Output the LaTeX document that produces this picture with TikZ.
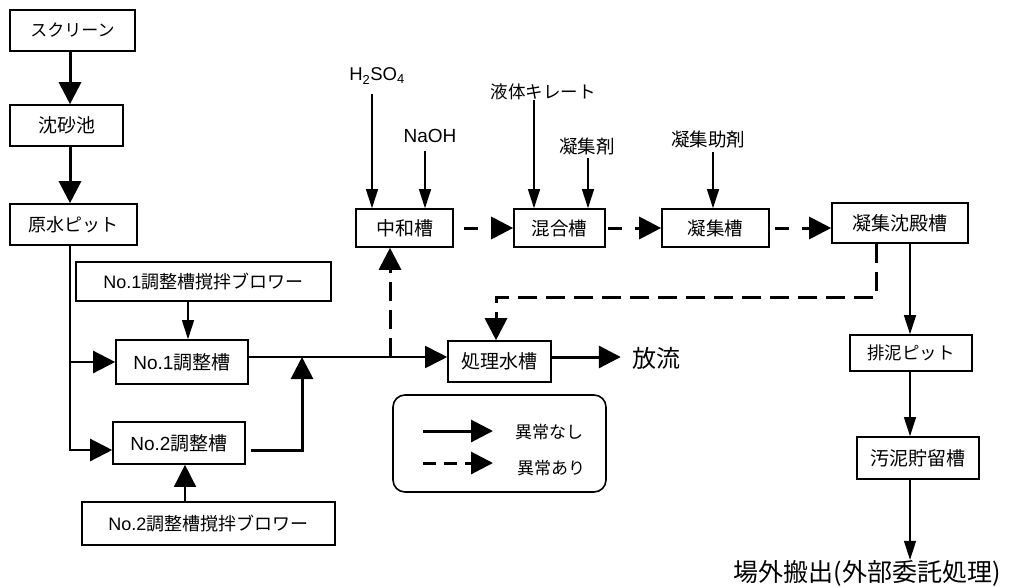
\documentclass[tikz,border=0pt]{standalone}
\usepackage{fontspec}
\setmainfont{Liberation Sans}
\newfontfamily\jp{Noto Sans CJK JP}
\usetikzlibrary{arrows.meta}
\newcommand\myfs[1]{\fontsize{#1}{#1}\selectfont}
\begin{document}
\begin{tikzpicture}[x=1pt,y=-1pt,
  box/.style={draw,line width=1.6pt,inner sep=0pt,font=\jp\myfs{19}},
  lbl/.style={inner sep=0pt,font=\jp\myfs{#1}},
  thickln/.style={line width=3pt},
  midln/.style={line width=1.8pt},
  thinln/.style={line width=1.2pt},
  dsh/.style={dash pattern=on 19pt off 9pt},
  bigarr/.style={-{Triangle[width=22pt,length=22pt]}},
  smallarr/.style={-{Triangle[width=12pt,length=19pt]}}]
\useasboundingbox (0,0) rectangle (1011,586);

% left column
\node[box,minimum width=125pt,minimum height=41pt] (scr) at (72.5,30.5) {\myfs{17}スクリーン};
\node[box,minimum width=113pt,minimum height=41pt] (sand) at (66.5,125.5) {沈砂池};
\node[box,minimum width=127pt,minimum height=41pt] (pit) at (73.5,224.5) {\myfs{18}原水ピット};
\node[box,minimum width=255pt,minimum height=39pt] (b1) at (203.5,281.5) {\myfs{18}{\rmfamily No.1}調整槽撹拌ブロワー};
\node[box,minimum width=132pt,minimum height=44pt] (t1) at (182,362) {{\rmfamily No.1}調整槽};
\node[box,minimum width=132pt,minimum height=42pt] (t2) at (179,443) {{\rmfamily No.2}調整槽};
\node[box,minimum width=253pt,minimum height=43pt] (b2) at (208.5,523.5) {\myfs{18}{\rmfamily No.2}調整槽撹拌ブロワー};

% process line
\node[box,minimum width=97pt,minimum height=38pt] (neut) at (404.5,228) {中和槽};
\node[box,minimum width=91pt,minimum height=38pt] (mix) at (559.5,228) {\myfs{18.5}混合槽};
\node[box,minimum width=107pt,minimum height=38pt] (coag) at (715.5,228) {\myfs{18.5}凝集槽};
\node[box,minimum width=136pt,minimum height=40pt] (sed) at (900,223) {凝集沈殿槽};
\node[box,minimum width=103pt,minimum height=41pt] (tr) at (499.5,361.5) {処理水槽};
\node[box,minimum width=122pt,minimum height=36pt] (pit2) at (911,353) {\myfs{17.5}排泥ピット};
\node[box,minimum width=122pt,minimum height=42pt] (sto) at (918,458) {汚泥貯留槽};

% chemicals
\node[inner sep=0pt,font=\myfs{18.5}] (h2so4) at (377,76) {H\textsubscript{2}SO\textsubscript{4}};
\node[inner sep=0pt,font=\myfs{19}] (naoh) at (430,136) {NaOH};
\node[lbl=17.5] (chel) at (543,92) {液体キレート};
\node[lbl=18.5] (coagent) at (587,147) {凝集剤};
\node[lbl=18.5] (aid) at (708,140) {凝集助剤};

% outputs
\node[lbl=24,anchor=west] (dis) at (632,358) {放流};
\node[lbl=25] (out) at (867,573) {場外搬出(外部委託処理)};

% legend
\node[draw,line width=1.6pt,rounded corners=12pt,minimum width=213pt,minimum height=97pt,inner sep=0pt] (leg) at (499.5,443.5) {};
\coordinate (l1a) at (423,431);
\coordinate (l1b) at (493,431);
\coordinate (l2a) at (423,463);
\coordinate (l2b) at (493,463);
\node[lbl=17] (n1) at (549,432) {異常なし};
\node[lbl=17] (n2) at (551,468) {異常あり};
\draw[thickln,bigarr] (l1a) -- (l1b);
\draw[thickln,dsh,dash pattern=on 13pt off 8pt,bigarr] (l2a) -- (l2b);

% helper coordinates
\coordinate (tx) at (70,0);
\coordinate (y2) at (0,450);
\coordinate (jn) at (302,357);
\coordinate (dx) at (390,0);
\coordinate (rx) at (876,0);
\coordinate (ry) at (0,297);
\coordinate (rx2) at (496,0);
\coordinate (sx) at (910,0);

% left column flow
\draw[thickln,bigarr] (scr.south -| tx) -- (sand.north -| tx);
\draw[thickln,bigarr] (sand.south -| tx) -- (pit.north -| tx);
\draw[line width=2.4pt,bigarr] (pit.south -| tx) -- (tx |- y2) -- (t2.west |- y2);
\draw[line width=2.4pt,bigarr] (tx |- t1.west) -- (t1.west);
\draw[thinln,smallarr] (b1.south -| 188,0) -- (t1.north -| 188,0);
\draw[line width=1.5pt,bigarr] (b2.north -| 185,0) -- (t2.south -| 185,0);
\draw[thickln,bigarr,shorten <=5pt] (t2.east |- y2) -- (jn |- y2) -- (jn);
\draw[midln,bigarr] (t1.east |- jn) -- (tr.west |- jn);
\draw[thickln,bigarr] (tr.east |- jn) -- ++(69,0);

% abnormal routes
\draw[thickln,dsh,bigarr] (dx |- jn) -- (dx |- neut.south);
\draw[thickln,dsh,dash pattern=on 14pt off 13pt,bigarr,shorten <=10pt] (neut.east) -- (mix.west);
\draw[thickln,dsh,dash pattern=on 14pt off 13pt,bigarr,shorten <=2pt] (mix.east) -- (coag.west);
\draw[thickln,dsh,dash pattern=on 14pt off 13pt,bigarr,shorten <=5pt] (coag.east) -- (sed.west |- coag.east);
\draw[thickln,dsh,bigarr] (rx |- sed.south) -- (rx |- ry) -- (rx2 |- ry) -- (rx2 |- tr.north);

% chemicals dosing
\draw[thinln,smallarr,shorten <=10pt] (h2so4.south -| 372,0) -- (neut.north -| 372,0);
\draw[thinln,smallarr,shorten <=8pt] (naoh.south -| 425,0) -- (neut.north -| 425,0);
\draw[thinln,smallarr] (chel.south -| 534,0) -- (mix.north -| 534,0);
\draw[thinln,smallarr,shorten <=2pt] (coagent.south -| 588,0) -- (mix.north -| 588,0);
\draw[thinln,smallarr,shorten <=3pt] (aid.south -| 713,0) -- (coag.north -| 713,0);

% sludge line
\draw[thinln,smallarr] (sed.south -| sx) -- (pit2.north -| sx);
\draw[thinln,smallarr] (pit2.south -| sx) -- (sto.north -| sx);
\draw[thinln,smallarr] (sto.south -| sx) -- (out.north -| sx);
\end{tikzpicture}
\end{document}
